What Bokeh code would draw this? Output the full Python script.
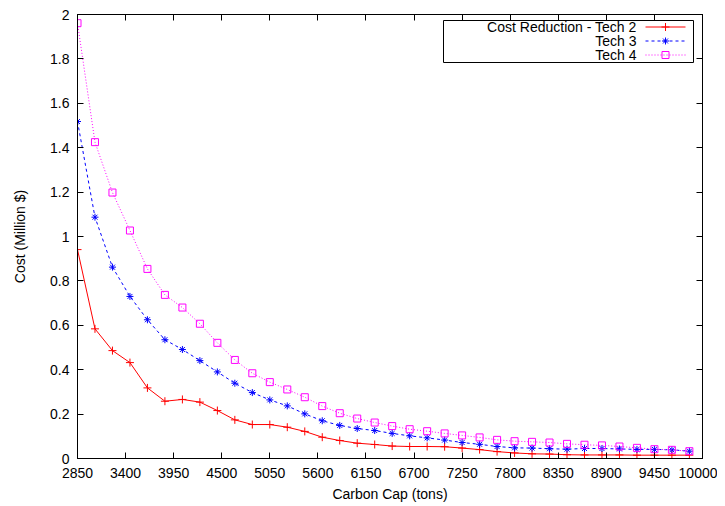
from bokeh.plotting import figure
from bokeh.models import Range1d, LinearAxis, FixedTicker
from bokeh.embed import file_html
from bokeh.resources import INLINE
from bokeh.core.properties import value

# ---------------- data ----------------
carbon_cap = [2850, 3050, 3250, 3450, 3650, 3850, 4050, 4250, 4450, 4650,
              4850, 5050, 5250, 5450, 5650, 5850, 6050, 6250, 6450, 6650,
              6850, 7050, 7250, 7450, 7650, 7850, 8050, 8250, 8450, 8650,
              8850, 9050, 9250, 9450, 9650, 9850]

tech2 = [0.941, 0.584, 0.486, 0.432, 0.318, 0.258, 0.266, 0.254, 0.216, 0.174,
         0.153, 0.153, 0.141, 0.122, 0.096, 0.081, 0.069, 0.063, 0.056, 0.054,
         0.054, 0.053, 0.047, 0.040, 0.031, 0.025, 0.021, 0.020, 0.017, 0.016,
         0.016, 0.016, 0.015, 0.015, 0.015, 0.015]

tech3 = [1.518, 1.087, 0.862, 0.730, 0.625, 0.535, 0.491, 0.441, 0.390, 0.339,
         0.297, 0.264, 0.237, 0.201, 0.170, 0.149, 0.135, 0.126, 0.113, 0.102,
         0.093, 0.083, 0.072, 0.064, 0.054, 0.048, 0.047, 0.044, 0.042, 0.045,
         0.045, 0.043, 0.041, 0.041, 0.039, 0.033]

tech4 = [1.961, 1.425, 1.198, 1.027, 0.854, 0.737, 0.680, 0.607, 0.521, 0.444,
         0.384, 0.344, 0.311, 0.276, 0.236, 0.204, 0.180, 0.162, 0.146, 0.132,
         0.123, 0.113, 0.104, 0.095, 0.084, 0.078, 0.075, 0.072, 0.066, 0.062,
         0.059, 0.054, 0.048, 0.042, 0.039, 0.033]

series_labels = ["Cost Reduction - Tech 2", "Tech 3", "Tech 4"]

x_ticks = [2850, 3400, 3950, 4500, 5050, 5600, 6150, 6700, 7250, 7800,
           8350, 8900, 9450, 10000]
y_ticks = [0, 0.2, 0.4, 0.6, 0.8, 1, 1.2, 1.4, 1.6, 1.8, 2]
y_tick_labels = ["0", "0.2", "0.4", "0.6", "0.8", "1", "1.2", "1.4", "1.6", "1.8", "2"]

# ---------------- styles ----------------
FONT = "Liberation Sans"
FS = "14px"
FW, FH = 625, 444
styles = [
    dict(color="#ff0000", dash="solid", marker="cross", size=8),
    dict(color="#0000ff", dash="3 3", marker="asterisk", size=7),
    dict(color="#ff00ff", dash="1 2", marker="square", size=7),
]

p = figure(frame_width=FW, frame_height=FH,
           x_range=Range1d(2850, 10000), y_range=Range1d(0, 2),
           output_backend="svg", toolbar_location=None,
           min_border_left=77, min_border_top=14, min_border_right=15,
           min_border_bottom=47, background_fill_color="white",
           border_fill_color="white")
p.grid.visible = False
p.outline_line_color = "black"
p.outline_line_width = 1


def style_axis(ax, ticks, labels):
    ax.ticker = FixedTicker(ticks=ticks)
    ax.major_label_overrides = dict(zip(ticks, labels))
    ax.major_tick_in = 6
    ax.major_tick_out = 0
    ax.minor_tick_line_color = None
    ax.major_tick_line_color = "black"
    ax.axis_line_color = "black"
    ax.major_label_text_font = FONT
    ax.major_label_text_font_size = FS
    ax.major_label_text_color = "black"
    ax.axis_label_text_font = FONT
    ax.axis_label_text_font_size = FS
    ax.axis_label_text_font_style = "normal"
    ax.axis_label_text_color = "black"


xax = p.xaxis[0]
yax = p.yaxis[0]
style_axis(xax, x_ticks, [str(t) for t in x_ticks])
style_axis(yax, y_ticks, y_tick_labels)
xax.axis_label = "Carbon Cap (tons)"
yax.axis_label = "Cost (Million $)"
xax.major_label_standoff = 9
xax.axis_label_standoff = 5
yax.major_label_standoff = 8
yax.axis_label_standoff = 19

# mirrored inward ticks on top and right (no labels)
top_ax = LinearAxis()
right_ax = LinearAxis()
style_axis(top_ax, x_ticks, [""] * len(x_ticks))
style_axis(right_ax, y_ticks, [""] * len(y_ticks))
top_ax.major_label_standoff = 0
right_ax.major_label_standoff = 0
p.add_layout(top_ax, "above")
p.add_layout(right_ax, "right")

# ---------------- series ----------------
for ys, st in zip([tech2, tech3, tech4], styles):
    p.line(carbon_cap, ys, line_color=st["color"], line_width=1, line_dash=st["dash"])
    p.scatter(carbon_cap, ys, marker=st["marker"], size=st["size"],
              line_color=st["color"], fill_color=None, line_width=1)

# ---------------- legend (gnuplot style: text right-aligned, sample on the right) ----------------
p.extra_x_ranges = {"lx": Range1d(0, FW)}
p.extra_y_ranges = {"ly": Range1d(0, FH)}
leg_box = dict(left=366, right=616, bottom=396, top=438)
leg_rows = [431.5, 417.5, 403.5]
leg_text_x = 559
leg_line = (568, 608)
leg_mark_x = 588

p.quad(left=[leg_box["left"]], right=[leg_box["right"]],
       bottom=[leg_box["bottom"]], top=[leg_box["top"]],
       fill_color="white", line_color="black", line_width=1,
       x_range_name="lx", y_range_name="ly")
p.text(x=[leg_text_x] * 3, y=leg_rows, text=series_labels,
       text_align="right", text_baseline="middle",
       text_font=value(FONT), text_font_size=FS, text_color="black",
       x_range_name="lx", y_range_name="ly")
for row, st in zip(leg_rows, styles):
    p.line(list(leg_line), [row, row], line_color=st["color"], line_width=1,
           line_dash=st["dash"], x_range_name="lx", y_range_name="ly")
    p.scatter([leg_mark_x], [row], marker=st["marker"], size=st["size"],
              line_color=st["color"], fill_color=None, line_width=1,
              x_range_name="lx", y_range_name="ly")

open("out.html", "w").write(file_html(p, INLINE))
